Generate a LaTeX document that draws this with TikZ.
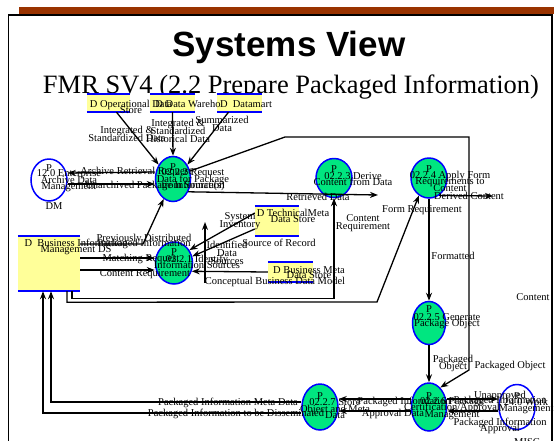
\documentclass[tikz,border=0pt]{standalone}
\usepackage{fontspec}
\setmainfont{Liberation Serif}
\newfontfamily\headfont{Liberation Sans}
\usetikzlibrary{positioning,shapes.geometric,arrows.meta}
\definecolor{procgreen}{RGB}{0,230,128}
\definecolor{storeyellow}{RGB}{255,255,153}
\definecolor{barred}{RGB}{153,51,0}

\begin{document}
\begin{tikzpicture}[%
    x=1pt, y=-1pt,
    >={Stealth[length=8pt,width=6pt]},
    flow/.style={->, line width=1.3pt},
    proc/.style={%
      ellipse,
      draw=blue,
      line width=1.5pt,
      fill=procgreen,
      inner sep=0pt},
    extern/.style={%
      ellipse,
      draw=blue,
      line width=1.5pt,
      fill=white,
      inner sep=0pt},
    store/.style={rectangle, fill=storeyellow, inner sep=0pt},
    storeline/.style={draw=blue, line width=1.5pt},
    lbl/.style={%
      font={\fontsize{10.5}{8}\selectfont\lineskiplimit=-20pt},
      inner sep=0pt,
      align=center},
    ptxt/.style={lbl, font={\fontsize{10.5}{6.5}\selectfont\lineskiplimit=-20pt}}
    ]
    \useasboundingbox (0,0) rectangle (554,440);
    % slide frame
    \fill[barred] (19,7) rectangle (554,14);
    \draw[line width=1.5pt] (8.5,445) -- (8.5,15) -- (552,15) -- (552,445);
    \node[font=\headfont\bfseries\fontsize{35}{40}\selectfont, anchor=base] (title) at (289,56) {Systems View};
    \node[font=\fontsize{26.5}{30}\selectfont, anchor=base] (subtitle) at (291,93) {FMR SV4 (2.2 Prepare Packaged Information)};

    % data stores
    \node[store, minimum width=43pt, minimum height=18pt] (opst) at (108.5,103) {};
    \node[store, minimum width=45pt, minimum height=18pt] (dwst) at (172.5,103) {};
    \node[store, minimum width=45pt, minimum height=18pt] (dmst) at (239.5,103) {};
    \node[store, minimum width=44pt, minimum height=30pt] (tmst) at (277,221) {};
    \node[store, minimum width=45pt, minimum height=20pt] (bmst) at (290.5,272) {};
    \node[store, minimum width=62pt, minimum height=55pt] (bids) at (49,263.5) {};
    \foreach \s in {opst,dwst,dmst,tmst,bmst,bids}
      \draw[storeline] (\s.north west) -- (\s.north east) (\s.south west) -- (\s.south east);

    % processes and externals
    \node[proc, minimum width=35pt, minimum height=45pt] (p222) at (173,179) {};
    \node[proc, minimum width=37pt, minimum height=42pt] (p221) at (174,263) {};
    \node[proc, minimum width=36pt, minimum height=39pt] (p223) at (334,178) {};
    \node[proc, minimum width=36pt, minimum height=40pt] (p224) at (429,178) {};
    \node[proc, minimum width=33pt, minimum height=43pt] (p225) at (429,323) {};
    \node[proc, minimum width=35pt, minimum height=48pt] (p226) at (429,407) {};
    \node[proc, minimum width=36pt, minimum height=46pt] (p227) at (320,407) {};
    \node[extern, minimum width=36pt, minimum height=42pt] (e120) at (49,180) {};
    \node[extern, minimum width=36pt, minimum height=45pt] (e240) at (517,407) {};

    \coordinate (po1) at (285,137);
    \coordinate (po2) at (469,137);
    \coordinate (po3) at (469,370);
    \coordinate (rd) at (378,195);
    \coordinate (dc) at (493,196);
    \coordinate (fr) at (377,302);
    \coordinate (pd) at (143,244);
    \coordinate (ids1) at (205,283);
    \coordinate (ids2) at (205,222);

    \draw[flow] ([xshift=8pt]opst.south) -- (p222.135);
    \draw[flow] (dwst.south) -- (p222.north);
    \draw[flow] ([xshift=-11pt]dmst.south) -- (p222.45);
    \draw[flow] ([yshift=7pt]p222.west) -- ([yshift=7pt]e120.east);
    \draw[flow] ([yshift=-4pt]e120.east) -- ([yshift=-5pt]p222.west);
    \draw[flow] (p222.25) -- (po1) -- (po2) -- (po3) -- (p226.60);
    \draw[flow] (p222.-40) -- (rd);
    \draw[flow] (p224.-60) -- (dc);
    \draw[flow] ([xshift=23pt]bids.south) -- ++(0,7) -| (p223.south);
    \draw[flow] ([xshift=18pt]bids.south) -- ++(0,11) -- (fr) -- (p224.-120);
    \draw[flow] ([yshift=19.5pt]bids.east) -- (pd) -- (p222.-115);
    \draw[flow] ([yshift=5.5pt]bids.east) -- ([yshift=5pt]p221.west);
    \draw[flow] ([yshift=-6.5pt]bids.east) -- ([yshift=-7pt]p221.west);
    \draw[flow] ([yshift=8pt]tmst.west) -- (p221.40);
    \draw[flow] ([yshift=-8pt]tmst.west) -- (p221.20);
    \draw[flow] (bmst.west) -- (p221.-25);
    \draw[flow] (ids1) -- (ids2);
    \draw[flow] (p224.south) -- (p225.north);
    \draw[flow] (p225.south) -- (p226.north);
    \draw[flow] ([yshift=8pt]p226.east) -- ([yshift=8pt]e240.west);
    \draw[flow] ([yshift=-4pt]e240.west) -- ([yshift=-4pt]p226.east);
    \draw[flow] ([yshift=8pt]p226.west) -- ([yshift=8pt]p227.east);
    \draw[flow] ([yshift=-4pt]p226.west) -- ([yshift=-4pt]p227.east);
    \draw[flow] ([yshift=5pt]p227.west) -| ([xshift=2pt]bids.south);
    \draw[flow] ([yshift=-6pt]p227.west) -| ([xshift=-6pt]bids.south);

    % texts of stores
    \node[ptxt] (opst-t) at (131,107) {D Operational Data\\Store};
    \node[ptxt] (dwst-t) at (188,104) {D Data Wareho};
    \node[ptxt] (dmst-t) at (246,104) {D\ \ Datamart};
    \node[ptxt] (tmst-t) at (293,216) {D TechnicalMeta\\Data Store};
    \node[ptxt] (bmst-t) at (309,272.5) {D Business Meta\\[-1.5pt]Data Store};
    \node[ptxt] (bids-t) at (76,247) {D\ \ Business Information\\Management DS};

    % texts of processes
    \foreach \n/\d in {e120/12,p222/12,p221/11,p223/9,p224/9,p225/14,p226/11,p227/11,e240/11}
      \node[ptxt] (\n-p) at ([yshift=\d pt]\n.center) {P};
    \node[ptxt] (e120-t) at ([xshift=20pt,yshift=-1pt]e120.center) {12.0 Enterprise\\Archive Data\\Management};
    \node[ptxt] (p222-t) at ([xshift=20pt,yshift=-1pt]p222.center) {02.2.2 Request\\Data for Package\\from Source(s)};
    \node[ptxt] (p221-t) at ([xshift=23pt,yshift=1pt]p221.center) {02.2.1 Identify\\Information Sources};
    \node[ptxt] (p223-t) at ([xshift=19pt,yshift=-1pt]p223.center) {02.2.3 Derive\\Content from Data};
    \node[ptxt] (p224-t) at ([xshift=21pt,yshift=-3pt]p224.center) {02.2.4 Apply Form\\Requirements to\\Content};
    \node[ptxt] (p225-t) at ([xshift=18pt,yshift=2pt]p225.center) {02.2.5 Generate\\Package Object};
    \node[ptxt] (p226-t) at ([xshift=23pt,yshift=-1pt]p226.center) {02.2.6 Package\\Certification/Approval\\Management};
    \node[ptxt] (p227-t) at ([xshift=15pt,yshift=-2pt]p227.center) {02.2.7 Store\\Object and Meta\\Data};
    \node[ptxt] (e240-t) at ([xshift=9pt,yshift=1pt]e240.center) {24.0 Work\\Management};
    \node[lbl, below=1pt of e120, xshift=5pt] (dm) {DM};
    \node[lbl, below=8pt of e240, xshift=10pt] (misc) {MISC};

    % flow labels
    \node[lbl] (l-op) at (127,134) {Integrated \&\\Standardized Data};
    \node[lbl] (l-dw) at (178,131) {Integrated \&\\Standardized\\Historical Data};
    \node[lbl] (l-dm) at (222,124) {Summarized\\Data};
    \node[lbl] (l-arr) at (136,172) {Archive Retrieval Request};
    \node[lbl] (l-una) at (155,186) {Unarchived Package Information};
    \node[lbl] (l-po) at (510,366) {Packaged Object};
    \node[lbl] (l-rd) at (318,197) {Retrieved Data};
    \node[lbl] (l-dc) at (469,196) {Derived Content};
    \node[lbl] (l-cr) at (363,223) {Content\\Requirement};
    \node[lbl] (l-fr) at (422,210) {Form Requirement};
    \node[lbl] (l-pd) at (144,241) {Previously Distributed\\[-3pt]Packaged Information};
    \node[lbl] (l-mr) at (141,259) {Matching Request};
    \node[lbl] (l-cq) at (145,274) {Content Requirement};
    \node[lbl] (l-si) at (240,221) {System\\Inventory};
    \node[lbl] (l-sr) at (279,243) {Source of Record};
    \node[lbl] (l-cb) at (275,282) {Conceptual Business Data Model};
    \node[lbl] (l-ids) at (227,253) {Identified\\Data\\Sources};
    \node[lbl] (l-fmt) at (453,256) {Formatted};
    \node[lbl] (l-pko) at (453,363) {Packaged\\[-1pt]Object};
    \node[lbl] (l-unp) at (500,398) {Unapproved\\[-3pt]Packaged Information};
    \node[lbl] (l-pia) at (500,426) {Packaged Information\\[-2pt]Approval};
    \node[lbl] (l-pi) at (404,402) {Packaged Information};
    \node[lbl] (l-ad) at (393,414) {Approval Data};
    \node[lbl] (l-pmd) at (228,403) {Packaged Information Meta Data};
    \node[lbl] (l-pdi) at (236,414) {Packaged Information to be Disseminated};
    \node[lbl] (l-cont) at (533,297) {Content};
\end{tikzpicture}
\end{document}
